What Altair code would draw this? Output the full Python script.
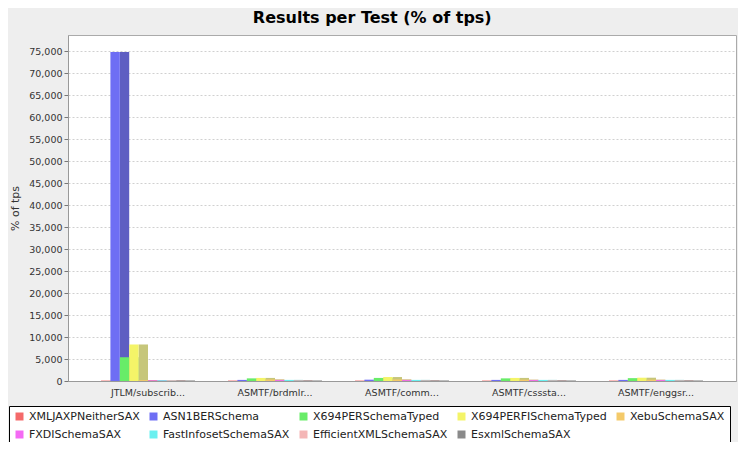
import altair as alt
import pandas as pd

categories = ["JTLM/subscrib...", "ASMTF/brdmlr...", "ASMTF/comm...", "ASMTF/csssta...", "ASMTF/enggsr..."]
series = ["XMLJAXPNeitherSAX", "ASN1BERSchema", "X694PERSchemaTyped", "X694PERFISchemaTyped",
          "XebuSchemaSAX", "FXDISchemaSAX", "FastInfosetSchemaSAX", "EfficientXMLSchemaSAX", "EsxmlSchemaSAX"]

xmljaxp = [100, 100, 100, 100, 100]
asn1ber = [74800, 250, 300, 250, 250]
x694per = [5400, 600, 700, 600, 650]
x694perfi = [8300, 700, 900, 700, 750]
xebu = [200, 350, 350, 300, 300]
fxdi = [150, 200, 200, 200, 200]
fastinfoset = [150, 250, 250, 250, 250]
efficientxml = [150, 150, 150, 150, 150]
esxml = [100, 100, 100, 100, 100]
series_values = [xmljaxp, asn1ber, x694per, x694perfi, xebu, fxdi, fastinfoset, efficientxml, esxml]

front_colors = ["#F46A6A", "#6E6EF4", "#68EC68", "#F4F468", "#F4CA6A",
                "#F46AF4", "#6AF0F0", "#F4B6B6", "#8A8A8A"]
side_colors = ["#C45A5A", "#5E5EC2", "#58BC58", "#C6C67A", "#C6A25A",
               "#C25AC2", "#5ABEBE", "#C49292", "#6A6A6A"]

rows = []
for si, s in enumerate(series):
    for ci, c in enumerate(categories):
        rows.append(dict(test=c, series=s, value=series_values[si][ci],
                         slot=si, side_slot=si + 1, side_color=side_colors[si]))
df = pd.DataFrame(rows)

FONT = "DejaVu Sans"

x = alt.X("test:N", sort=categories,
          scale=alt.Scale(paddingInner=0.26, paddingOuter=0.26),
          axis=alt.Axis(title=None, labelAngle=0, ticks=False, labelFont=FONT,
                        labelFontSize=9.5, labelColor="#333333", labelPadding=6,
                        domainColor="#999999"))
y = alt.Y("value:Q", scale=alt.Scale(domain=[0, 78640], nice=False),
          axis=alt.Axis(title="% of tps", values=list(range(0, 75001, 5000)), format=",.0f",
                        labelFont=FONT, labelFontSize=9.5, labelColor="#333333",
                        titleFont=FONT, titleFontSize=11, titleFontWeight="normal",
                        titleColor="#333333", titlePadding=8,
                        tickColor="#777777", tickSize=4, domainColor="#999999",
                        grid=True, gridDash=[2, 2], gridColor="#D0D0D0"))

slot_scale = alt.Scale(domain=list(range(10)), paddingInner=0, paddingOuter=0)

side = alt.Chart(df).mark_bar().encode(
    x=x,
    xOffset=alt.XOffset("side_slot:O", scale=slot_scale),
    y=y,
    color=alt.Color("side_color:N", scale=None),
)

front = alt.Chart(df).mark_bar().encode(
    x=x,
    xOffset=alt.XOffset("slot:O", scale=slot_scale),
    y=y,
    color=alt.Color("series:N", sort=series,
                    scale=alt.Scale(domain=series, range=front_colors),
                    legend=alt.Legend(title=None, orient="none", legendX=-59, legendY=371,
                                      direction="horizontal", columns=5, gridAlign="none",
                                      columnPadding=8, rowPadding=6,
                                      symbolType="square", symbolSize=64,
                                      labelFont=FONT, labelFontSize=11, labelColor="#222222",
                                      strokeColor="#000000", fillColor="#FFFFFF",
                                      padding=5)),
)

chart = alt.layer(side, front).properties(
    width=668, height=346,
    title=alt.TitleParams("Results per Test (% of tps)", font=FONT, fontSize=16,
                          fontWeight="bold", color="#000000", frame="bounds",
                          anchor="middle", offset=9),
    autosize=alt.AutoSizeParams(type="none"),
    padding={"left": 60, "top": 27, "right": 2, "bottom": 61},
    background="#EEEEEE",
).configure_view(fill="#FFFFFF", stroke="#AAAAAA")

chart.save("out.html", embed_options={"renderer": "svg", "actions": False})
